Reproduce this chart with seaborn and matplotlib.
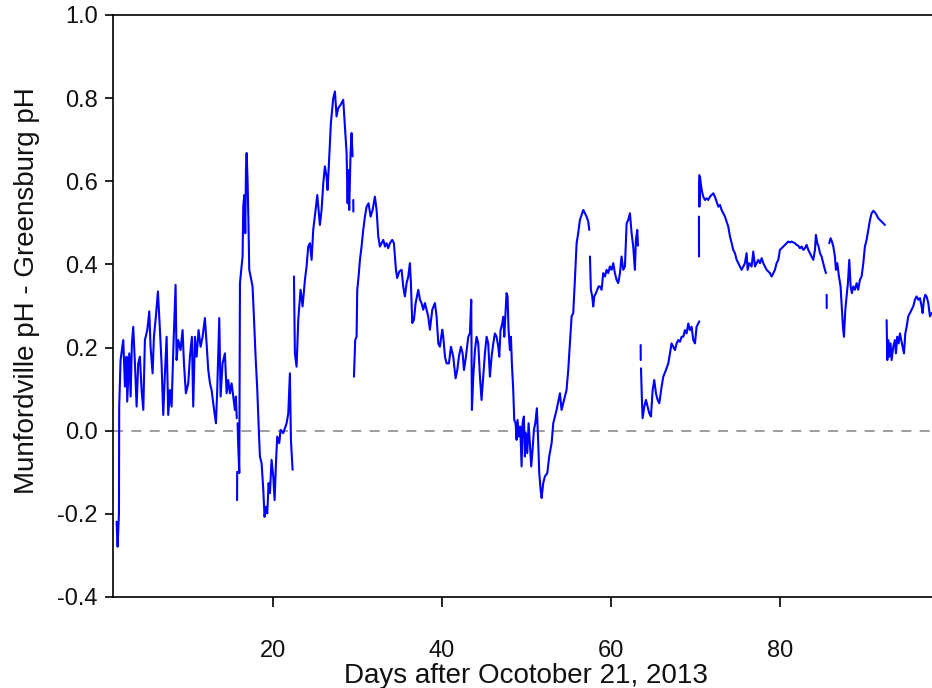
import numpy as np
import pandas as pd
import matplotlib
matplotlib.use("Agg")
import matplotlib.pyplot as plt
import seaborn as sns

nan = np.nan

# pH difference record (Munfordville minus Greensburg); NaN marks a break in the record
days = [
    1.50, 1.62, 1.78, 1.81, 1.97, 2.29, 2.49, 2.68, 2.76, 3.00, 3.16, 3.31, 3.47, 3.67, 3.87,
    4.06, 4.26, 4.46, 4.66, 4.85, 5.13, 5.37, 5.52, 5.76, 5.92, 6.15, 6.39, 6.63, 6.82, 7.02,
    7.22, 7.42, 7.61, 7.81, 8.01, 8.21, 8.48, 8.60, 8.80, 9.07, 9.31, 9.47, 9.70, 9.98, 10.18,
    10.41, 10.57, 10.77, 10.97, 11.20, 11.44, 11.68, 11.95, 12.15, 12.35, 12.55, 12.74, 12.94,
    13.14, 13.26, 13.41, 13.65, 13.81, 14.04, 14.32, 14.52, 14.71, 14.91, 15.11, 15.31, 15.50,
    15.62, 15.72, nan,
    15.76, 15.77, nan,
    15.82, 15.90, 16.02, 16.10, 16.29, 16.41, 16.49, 16.61, 16.73, 16.81, 16.89, 17.00, 17.12,
    17.20, 17.36, 17.59, 17.75, 17.95, 18.15, 18.30, 18.46, 18.66, 18.86, 19.01, 19.17, 19.33,
    19.49, 19.65, 19.84, 20.04, 20.20, 20.36, 20.51, 20.75, 20.91, 21.22, 21.42, 21.62, 21.82,
    22.01, 22.13, 22.33, nan,
    22.49, 22.60, 22.80, 23.00, 23.27, 23.51, 23.79, 23.98, 24.18, 24.38, 24.58, 24.77, 25.05,
    25.25, 25.56, 25.76, 25.96, 26.15, 26.35, 26.47, 26.67, 26.86, 27.14, 27.34, 27.53, 27.73,
    28.01, 28.32, 28.52, 28.72, 28.84, 28.92, 29.03, 29.19, 29.31, 29.43, nan,
    29.51, 29.52, nan,
    29.59, 29.74, 29.90, 29.98, 30.14, 30.30, 30.49, 30.69, 30.89, 31.09, 31.32, 31.56, 31.80,
    32.07, 32.27, 32.47, 32.66, 32.86, 33.06, 33.26, 33.45, 33.65, 33.85, 34.12, 34.32, 34.56,
    34.71, 34.95, 35.23, 35.42, 35.62, 35.82, 36.02, 36.21, 36.33, 36.49, 36.69, 36.89, 37.20,
    37.40, 37.59, 37.79, 37.99, 38.19, 38.38, 38.58, 38.86, 39.17, 39.37, 39.57, 39.76, 40.04,
    40.16, 40.36, 40.55, 40.83, 41.07, 41.34, 41.62, 41.82, 42.01, 42.25, 42.45, 42.61, 42.84,
    43.12, 43.31, 43.47, 43.55, 43.71, 43.91, 44.10, 44.30, 44.50, 44.69, 44.89, 45.09, 45.29,
    45.48, 45.68, 45.88, 46.08, 46.27, 46.47, 46.67, 46.79, 46.94, 47.14, 47.26, 47.38, 47.53,
    47.65, 47.77, 47.89, 48.05, 48.17, 48.28, 48.44, 48.56, 48.72, 48.84, 48.95, 49.11, 49.27,
    49.43, 49.55, 49.70, 49.82, 49.94, 50.10, 50.26, 50.41, 50.57, 50.73, 50.89, 51.05, 51.24,
    51.40, 51.52, 51.68, 51.80, 51.99, 52.19, 52.47, 52.70, 52.98, 53.18, 53.37, 53.57, 53.81,
    53.97, 54.16, 54.36, 54.56, 54.75, 54.95, 55.15, 55.35, 55.54, 55.74, 55.94, 56.13, 56.33,
    56.53, 56.73, 56.92, 57.12, 57.32, 57.44, nan,
    57.52, 57.63, 57.79, 57.91, 58.03, 58.23, 58.38, 58.54, 58.70, 58.90, 59.09, 59.29, 59.49,
    59.69, 59.88, 60.08, 60.28, 60.47, 60.67, 60.87, 61.07, 61.26, 61.46, 61.66, 61.86, 62.05,
    62.25, 62.45, 62.64, 62.84, 62.96, 63.12, 63.20, nan,
    63.52, 63.53, nan,
    63.56, 63.67, 63.75, 63.95, 64.15, 64.34, 64.54, 64.74, 64.94, 65.13, 65.33, 65.53, 65.73,
    66.00, 66.20, 66.51, 66.79, 66.99, 67.18, 67.38, 67.58, 67.78, 67.97, 68.17, 68.37, 68.57,
    68.76, 68.96, 69.16, 69.35, 69.55, 69.75, 69.95, 70.14, 70.34, 70.46, nan,
    70.42, 70.43, nan,
    70.46, 70.47, 70.54, 70.74, 70.93, 71.13, 71.33, 71.52, 71.72, 71.92, 72.12, 72.31, 72.51,
    72.71, 72.91, 73.10, 73.30, 73.50, 73.69, 73.89, 74.09, 74.29, 74.48, 74.68, 74.88, 75.08,
    75.27, 75.47, 75.67, 75.86, 76.06, 76.18, 76.38, 76.65, 76.85, 77.05, 77.24, 77.44, 77.64,
    77.84, 78.03, 78.23, 78.43, 78.63, 78.82, 79.02, 79.22, 79.41, 79.61, 79.81, 80.00, 80.20,
    80.40, 80.60, 80.79, 80.99, 81.19, 81.38, 81.58, 81.78, 81.98, 82.17, 82.37, 82.57, 82.77,
    82.96, 83.16, 83.36, 83.55, 83.75, 83.95, 84.15, 84.26, 84.42, 84.58, 84.74, 84.93, 85.13,
    85.33, 85.45, nan,
    85.53, 85.54, nan,
    85.84, 86.00, 86.16, 86.32, 86.51, 86.63, 86.79, 86.99, 87.18, 87.34, 87.46, 87.58, 87.74,
    87.89, 88.05, 88.21, 88.37, 88.52, 88.68, 88.88, 89.08, 89.27, 89.47, 89.67, 89.87, 90.06,
    90.26, 90.46, 90.66, 90.85, 91.05, 91.25, 91.44, 91.64, 91.84, 92.04, 92.23, 92.43, nan,
    92.63, 92.71, 92.82, 92.94, 93.10, 93.22, 93.42, 93.61, 93.73, 93.89, 94.05, 94.21, 94.36,
    94.52, 94.68, 94.84, 95.00, 95.19, 95.39, 95.59, 95.78, 95.98, 96.18, 96.38, 96.57, 96.77,
    96.89, 97.05, 97.20, 97.36, 97.56, 97.76, 97.95,
]

ph_diff = [
    -0.219, -0.279, -0.199, 0.058, 0.170, 0.218, 0.106, 0.178, 0.070, 0.186, 0.082, 0.210, 0.250,
    0.162, 0.058, 0.162, 0.178, 0.098, 0.050, 0.218, 0.242, 0.287, 0.202, 0.138, 0.226, 0.275,
    0.335, 0.242, 0.162, 0.038, 0.138, 0.226, 0.038, 0.098, 0.058, 0.194, 0.351, 0.170, 0.218,
    0.194, 0.242, 0.162, 0.090, 0.114, 0.178, 0.226, 0.058, 0.226, 0.178, 0.242, 0.202, 0.226,
    0.271, 0.210, 0.146, 0.114, 0.098, 0.066, 0.034, 0.018, 0.098, 0.271, 0.082, 0.162, 0.186,
    0.090, 0.122, 0.090, 0.114, 0.082, 0.050, 0.082, 0.030, nan,
    -0.167, -0.099, nan,
    0.018, -0.038, -0.102, 0.355, 0.395, 0.419, 0.539, 0.567, 0.475, 0.627, 0.668, 0.603, 0.483,
    0.387, 0.371, 0.347, 0.275, 0.178, 0.098, 0.018, -0.062, -0.078, -0.142, -0.207, -0.183,
    -0.199, -0.126, -0.150, -0.070, -0.110, -0.167, -0.078, -0.014, -0.030, 0.002, -0.006,
    0.006, 0.018, 0.042, 0.138, -0.022, -0.094, nan,
    0.371, 0.186, 0.154, 0.267, 0.339, 0.299, 0.363, 0.395, 0.443, 0.451, 0.411, 0.483, 0.531,
    0.567, 0.495, 0.531, 0.595, 0.636, 0.611, 0.579, 0.660, 0.740, 0.800, 0.816, 0.756, 0.776,
    0.784, 0.796, 0.732, 0.668, 0.547, 0.627, 0.531, 0.668, 0.716, 0.660, nan,
    0.555, 0.527, nan,
    0.130, 0.218, 0.226, 0.339, 0.371, 0.411, 0.443, 0.483, 0.515, 0.539, 0.547, 0.515, 0.531,
    0.563, 0.531, 0.467, 0.443, 0.451, 0.459, 0.443, 0.451, 0.439, 0.451, 0.459, 0.451, 0.387,
    0.367, 0.383, 0.387, 0.347, 0.323, 0.355, 0.371, 0.403, 0.355, 0.259, 0.267, 0.307, 0.339,
    0.315, 0.307, 0.291, 0.307, 0.291, 0.275, 0.243, 0.291, 0.307, 0.275, 0.210, 0.202, 0.243,
    0.226, 0.178, 0.162, 0.162, 0.202, 0.178, 0.126, 0.146, 0.178, 0.202, 0.186, 0.146, 0.178,
    0.226, 0.234, 0.315, 0.050, 0.130, 0.194, 0.226, 0.210, 0.130, 0.074, 0.130, 0.186, 0.226,
    0.210, 0.130, 0.178, 0.210, 0.234, 0.226, 0.202, 0.178, 0.242, 0.258, 0.274, 0.226, 0.283,
    0.331, 0.323, 0.242, 0.194, 0.226, 0.162, 0.098, 0.026, 0.018, -0.022, 0.026, -0.014, 0.010,
    -0.086, 0.018, 0.034, -0.062, -0.006, -0.054, 0.018, -0.030, -0.086, -0.046, 0.002, 0.018,
    0.054, -0.030, -0.102, -0.142, -0.162, -0.126, -0.110, -0.102, -0.062, -0.030, 0.018, 0.034,
    0.050, 0.074, 0.090, 0.050, 0.066, 0.082, 0.098, 0.146, 0.210, 0.275, 0.283, 0.363, 0.451,
    0.475, 0.507, 0.519, 0.531, 0.523, 0.515, 0.503, 0.483, nan,
    0.419, 0.339, 0.323, 0.299, 0.323, 0.331, 0.339, 0.347, 0.347, 0.339, 0.379, 0.371, 0.387,
    0.379, 0.395, 0.387, 0.403, 0.379, 0.363, 0.355, 0.379, 0.419, 0.387, 0.395, 0.499, 0.507,
    0.523, 0.475, 0.443, 0.387, 0.459, 0.483, 0.445, nan,
    0.206, 0.170, nan,
    0.150, 0.074, 0.030, 0.058, 0.074, 0.058, 0.042, 0.034, 0.098, 0.122, 0.090, 0.074, 0.066,
    0.106, 0.130, 0.146, 0.162, 0.186, 0.210, 0.202, 0.194, 0.210, 0.218, 0.214, 0.226, 0.226,
    0.242, 0.234, 0.258, 0.242, 0.250, 0.218, 0.210, 0.250, 0.258, 0.263, nan,
    0.515, 0.419, nan,
    0.615, 0.539, 0.611, 0.579, 0.563, 0.555, 0.559, 0.555, 0.563, 0.567, 0.571, 0.563, 0.551,
    0.539, 0.543, 0.531, 0.523, 0.515, 0.503, 0.491, 0.467, 0.451, 0.435, 0.427, 0.411, 0.403,
    0.395, 0.387, 0.395, 0.403, 0.427, 0.387, 0.403, 0.395, 0.431, 0.395, 0.403, 0.411, 0.403,
    0.415, 0.403, 0.395, 0.387, 0.383, 0.379, 0.371, 0.379, 0.387, 0.403, 0.411, 0.435, 0.439,
    0.443, 0.447, 0.451, 0.455, 0.453, 0.455, 0.453, 0.451, 0.447, 0.445, 0.439, 0.443, 0.435,
    0.439, 0.447, 0.435, 0.427, 0.419, 0.411, 0.435, 0.471, 0.451, 0.443, 0.427, 0.419, 0.403,
    0.387, 0.379, nan,
    0.327, 0.295, nan,
    0.451, 0.463, 0.455, 0.443, 0.419, 0.387, 0.403, 0.371, 0.347, 0.291, 0.250, 0.226, 0.291,
    0.323, 0.355, 0.411, 0.347, 0.331, 0.347, 0.339, 0.355, 0.339, 0.363, 0.371, 0.403, 0.443,
    0.459, 0.483, 0.507, 0.523, 0.529, 0.525, 0.519, 0.511, 0.507, 0.503, 0.499, 0.495, nan,
    0.266, 0.170, 0.218, 0.178, 0.210, 0.170, 0.202, 0.218, 0.186, 0.226, 0.210, 0.234, 0.218,
    0.202, 0.186, 0.234, 0.250, 0.275, 0.283, 0.291, 0.299, 0.315, 0.323, 0.315, 0.319, 0.299,
    0.283, 0.315, 0.327, 0.323, 0.307, 0.275, 0.283,
]

y_ticks = [-0.4, -0.2, 0.0, 0.2, 0.4, 0.6, 0.8, 1.0]
x_ticks = [20, 40, 60, 80]

# split the record into continuous runs at the NaN breaks
df = pd.DataFrame({"day": days, "ph_diff": ph_diff})
df["segment"] = df["day"].isna().cumsum()
df = df.dropna()

sns.set_theme(style="ticks")
plt.rcParams["font.family"] = ["Liberation Sans", "DejaVu Sans"]
plt.rcParams["axes.unicode_minus"] = False

fig = plt.figure(figsize=(9.32, 6.88), dpi=100)
ax = fig.add_axes([0.1212, 0.1323, 0.8788, 0.8459])

ax.axhline(0.0, color="#8c8c8c", lw=1.2, ls=(0, (6, 5)), zorder=1)
sns.lineplot(data=df, x="day", y="ph_diff", units="segment", estimator=None,
             sort=False, color="#0000ff", lw=1.5, ax=ax, zorder=2)

ax.set_xlim(1.07, 98.0)
ax.set_ylim(-0.4, 1.0)
ax.set_xticks(x_ticks)
ax.set_yticks(y_ticks)
ax.set_yticklabels([f"{v:.1f}" for v in y_ticks])

ax.spines["right"].set_visible(False)
for side in ("left", "bottom", "top"):
    ax.spines[side].set_color("black")
    ax.spines[side].set_linewidth(1.2)

ax.tick_params(axis="y", direction="out", length=6, width=1.2, pad=5,
               labelsize=17, colors="#111111")
ax.tick_params(axis="x", direction="out", length=7, width=1.2, pad=24,
               labelsize=17, colors="#111111")
ax.tick_params(axis="x", colors="black", labelcolor="#111111")
ax.tick_params(axis="y", colors="black", labelcolor="#111111")

ax.set_xlabel("Days after Ocotober 21, 2013", fontsize=20, color="#111111")
ax.set_ylabel("Munfordville pH - Greensburg pH", fontsize=20, color="#111111")
ax.xaxis.set_label_coords(0.504, -0.148)
ax.xaxis.label.set_va("baseline")
ax.yaxis.set_label_coords(-0.105, 0.527)
ax.yaxis.label.set_va("center")

fig.savefig("out.png", dpi=100)
